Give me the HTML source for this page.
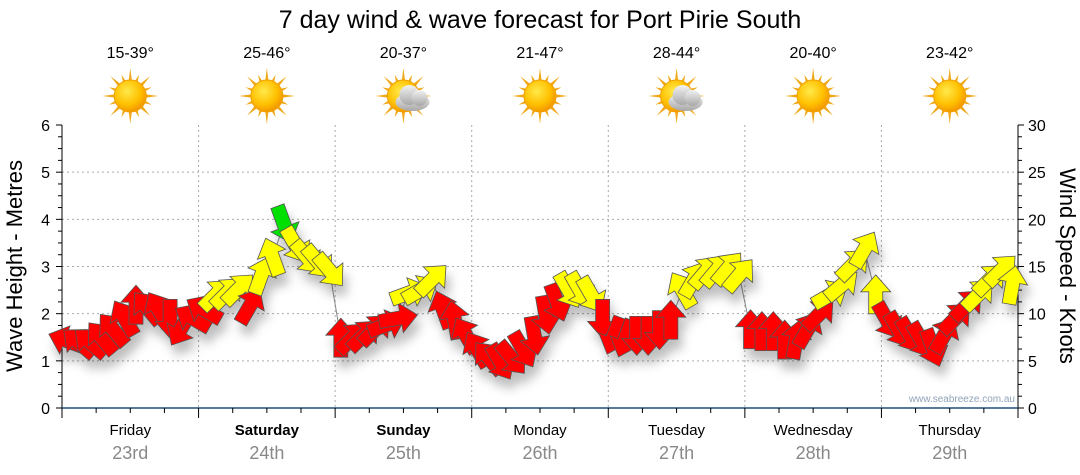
<!DOCTYPE html>
<html><head><meta charset="utf-8">
<style>
html,body{margin:0;padding:0;background:#fff;}
svg{display:block;font-family:"Liberation Sans",sans-serif;}
</style></head>
<body>
<svg id="chart" width="1080" height="475" viewBox="0 0 1080 475" xmlns="http://www.w3.org/2000/svg">
<defs>
  <filter id="sh" x="-50%" y="-50%" width="200%" height="200%">
    <feDropShadow dx="4" dy="10" stdDeviation="5" flood-color="#000" flood-opacity="0.25"/>
  </filter>
  <radialGradient id="sunG" cx="0.4" cy="0.35" r="0.7">
    <stop offset="0" stop-color="#ffe94a"/><stop offset="0.6" stop-color="#ffc000"/><stop offset="1" stop-color="#f09000"/>
  </radialGradient>
  <linearGradient id="cloudG" x1="0" y1="0" x2="0" y2="1">
    <stop offset="0" stop-color="#f2f2f2"/><stop offset="1" stop-color="#a8a8a8"/>
  </linearGradient>
</defs>
<text x="540" y="28" text-anchor="middle" font-size="25" fill="#000">7 day wind &amp; wave forecast for Port Pirie South</text>
<g id="grid"></g>
<g id="icons"></g>
<g id="axes"></g>
<g id="series"></g>
<text x="1015" y="402" text-anchor="end" font-size="10" fill="#8fa3b8">www.seabreeze.com.au</text>
<text transform="translate(22,266) rotate(-90)" text-anchor="middle" font-size="22" fill="#000">Wave Height - Metres</text>
<text transform="translate(1060,266) rotate(90)" text-anchor="middle" font-size="22" fill="#000">Wind Speed - Knots</text>
</svg>
<script>
const days = ["Friday","Saturday","Sunday","Monday","Tuesday","Wednesday","Thursday"];
const dates = ["23rd","24th","25th","26th","27th","28th","29th"];
const boldDays = [false,true,true,false,false,false,false];
const temps = ["15-39°","25-46°","20-37°","21-47°","28-44°","20-40°","23-42°"];
const cloudy = [false,false,true,false,true,false,false];
const waveTicks = [0,1,2,3,4,5,6];
const windTicks = [0,5,10,15,20,25,30];
// wind speed (knots) every 2 hours, 12 per day
const windSpeed = [
 7.1,6.9,6.9,7.4,8.3,9.5,10.9,10.6,10.4,9.5,8.5,9.5,
 10.4,12,12.2,12.6,10.8,14,16,19.5,17.3,16,15.5,14.6,
 7.4,7.4,7.7,8.3,8.8,9.5,12.2,12.5,13.6,10.4,9.3,7.7,
 6.2,5.3,4.9,5.3,6.2,7.7,9.9,11.2,12.5,12.5,12,9.5,
 7.7,7.4,7.7,7.7,8.3,9.3,12.5,13.6,14.4,14.6,14.8,14.1,
 8.3,8.1,8.1,7.2,7.2,8.3,9.9,12,13,15.2,16.8,12,
 9.3,8.3,7.7,7.2,6.4,7.7,9.5,10.9,12,13.6,14.6,13
];
// direction the arrow points (degrees clockwise from up)
const windDir = [
 290,310,310,320,320,330,0,320,330,180,210,300,
 300,45,45,45,30,20,340,160,150,140,140,140,
 0,45,45,45,70,80,70,60,45,340,350,330,
 330,320,150,140,150,170,170,160,150,150,150,180,
 200,200,180,180,180,0,330,30,40,40,40,40,
 0,0,0,0,10,30,45,60,50,45,30,0,
 150,150,150,150,160,30,45,45,45,45,45,10
];

const NS="http://www.w3.org/2000/svg";
const X0=62, X1=1018, Y0=408, Ytop=125;
const dayW=(X1-X0)/7;
const xAt = h => X0 + h/24*dayW;
const yWave = m => Y0 - m*(Y0-Ytop)/6;
const yWind = k => Y0 - k*(Y0-Ytop)/30;
function mk(tag, attrs, parent){const e=document.createElementNS(NS,tag);for(const k in attrs)e.setAttribute(k,attrs[k]);parent.appendChild(e);return e;}

const grid=document.getElementById('grid');
waveTicks.forEach(m=>{ if(m>0 && m<6){
  const l=mk('line',{x1:X0,x2:X1,y1:yWave(m),y2:yWave(m),stroke:'#aaa','stroke-dasharray':'2,3','stroke-width':1},grid);
  
  
}});
for(let d=1;d<7;d++){
  const l=mk('line',{x1:X0+d*dayW,x2:X0+d*dayW,y1:Ytop,y2:Y0,stroke:'#aaa','stroke-dasharray':'2,3','stroke-width':1},grid);
  
  
}

const axes=document.getElementById('axes');
mk('line',{x1:X0,x2:X0,y1:Ytop,y2:Y0,stroke:'#000','stroke-width':1},axes);
mk('line',{x1:X1,x2:X1,y1:Ytop,y2:Y0,stroke:'#000','stroke-width':1},axes);
for(let i=0;i<=24;i++){
  const y=yWave(i*0.25), big=i%4==0;
  mk('line',{x1:X0-(big?6:4),x2:X0,y1:y,y2:y,stroke:'#000'},axes);
  mk('line',{x1:X1,x2:X1+(big?6:4),y1:y,y2:y,stroke:'#000'},axes);
}
waveTicks.forEach(m=>{
  const t=mk('text',{x:X0-12,y:yWave(m)+6,'text-anchor':'end','font-size':16,fill:'#000'},axes);
  t.textContent=m;
  
  
});
windTicks.forEach(k=>{
  const t=mk('text',{x:X1+10,y:yWind(k)+6,'font-size':16,fill:'#000'},axes);
  t.textContent=k;
  
  
});
mk('line',{x1:X0,x2:X1,y1:Y0,y2:Y0,stroke:'#1f4e79','stroke-width':1.5},axes);
for(let i=0;i<=28;i++){
  const x=X0+i*dayW/4;
  mk('line',{x1:x,x2:x,y1:Y0,y2:Y0+(i%4==0?10:5),stroke:'#000'},axes);
}
days.forEach((d,i)=>{
  const cx=X0+(i+0.5)*dayW;
  const t=mk('text',{x:cx,y:435,'text-anchor':'middle','font-size':15,fill:'#000','font-weight':boldDays[i]?'bold':'normal'},axes);
  t.textContent=d;
  
  
  const t2=mk('text',{x:cx,y:459,'text-anchor':'middle','font-size':18,fill:'#888'},axes);
  t2.textContent=dates[i];
  
  
});

const icons=document.getElementById('icons');
temps.forEach((tp,i)=>{
  const cx=X0+(i+0.5)*dayW, cy=96;
  const t=mk('text',{x:cx,y:58,'text-anchor':'middle','font-size':16,fill:'#000'},icons);
  t.textContent=tp;
  
  
  const g=mk('g',{},icons);
  
  
  for(let r=0;r<16;r++){
    const a=r*Math.PI/8, len=r%2?23:28;
    mk('polygon',{points:`${cx+Math.cos(a)*len},${cy+Math.sin(a)*len} ${cx+Math.cos(a+0.13)*14},${cy+Math.sin(a+0.13)*14} ${cx+Math.cos(a-0.13)*14},${cy+Math.sin(a-0.13)*14}`,fill:'#f0a818'},g);
  }
  mk('circle',{cx:cx,cy:cy,r:16,fill:'url(#sunG)',stroke:'#f0a000','stroke-width':1},g);
  if(cloudy[i]){
    const c=mk('g',{},g);
    mk('ellipse',{cx:cx+9,cy:cy+6,rx:17,ry:9,fill:'url(#cloudG)'},c);
    mk('circle',{cx:cx+6,cy:cy-1,r:10,fill:'url(#cloudG)'},c);
    mk('circle',{cx:cx+16,cy:cy+2,r:8,fill:'url(#cloudG)'},c);
  }
});

const series=document.getElementById('series');
const pts=windSpeed.map((k,i)=>[xAt(i*2+1), yWind(k)]);
const line=mk('polyline',{points:pts.map(p=>p.join(',')).join(' '),fill:'none',stroke:'#888','stroke-width':1},series);


const arrowsG=mk('g',{filter:'url(#sh)'},series);
const shape="0,-20 15,-3 7,-3 7,19 -7,19 -7,-3 -15,-3";
windSpeed.forEach((k,i)=>{
  const col = k>=19 ? '#00e000' : (k>=11.5 ? '#ffff00' : '#ff0000');
  const a=mk('polygon',{points:shape,fill:col,stroke:'#555','stroke-width':0.8,
    transform:`translate(${xAt(i*2+1)},${yWind(k)}) rotate(${windDir[i]})`},arrowsG);
  
  
});
</script>
</body></html>
